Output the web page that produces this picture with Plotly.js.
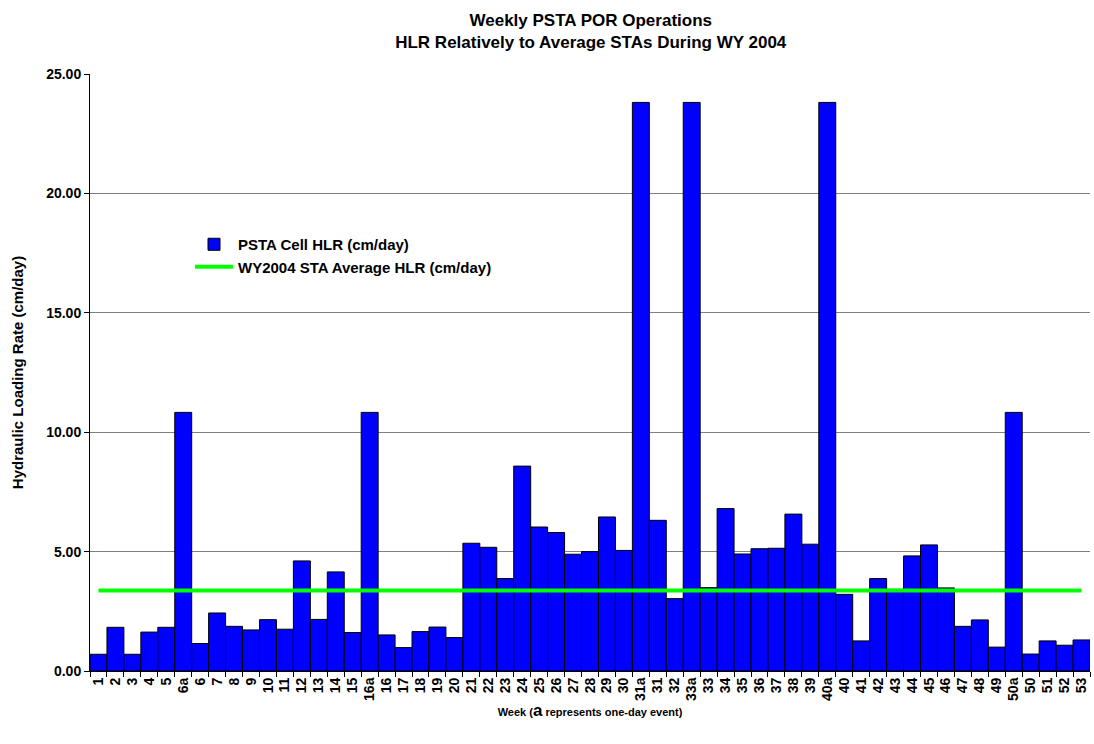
<!DOCTYPE html>
<html>
<head>
<meta charset="utf-8">
<script src="https://cdn.plot.ly/plotly-3.0.1.min.js"></script>
<style>html,body{margin:0;padding:0;background:#fff;}</style>
</head>
<body>
<div id="chart" style="width:1094px;height:744px;"></div>
<script>
const weeks = ["1","2","3","4","5","6a","6","7","8","9","10","11","12","13","14","15","16a","16","17","18","19","20","21","22","23","24","25","26","27","28","29","30","31a","31","32","33a","33","34","35","36","37","38","39","40a","40","41","42","43","44","45","46","47","48","49","50a","50","51","52","53"];
const psta = [0.70,1.83,0.70,1.63,1.83,10.83,1.15,2.43,1.87,1.72,2.15,1.75,4.61,2.16,4.15,1.61,10.83,1.51,0.98,1.65,1.84,1.40,5.35,5.18,3.87,8.58,6.03,5.80,4.89,5.00,6.45,5.05,23.81,6.31,3.03,23.81,3.49,6.80,4.90,5.12,5.14,6.57,5.31,23.81,3.21,1.26,3.87,3.42,4.82,5.28,3.48,1.87,2.14,1.00,10.83,0.71,1.26,1.08,1.30];
const staAvg = weeks.map(() => 3.37);
const yTicks = [0, 5, 10, 15, 20, 25];

const fam = "Liberation Sans, Arial, sans-serif";

const traces = [
  {
    type: "bar", x: weeks, y: psta, name: "<b>PSTA Cell HLR (cm/day)</b>",
    marker: {color: "#0000FF", line: {color: "#000", width: 1}}
  },
  {
    type: "scatter", mode: "lines", x: weeks, y: staAvg,
    name: "<b>WY2004 STA Average HLR (cm/day)</b>",
    line: {color: "#00FF00", width: 4}
  }
];

const layout = {
  width: 1094, height: 744,
  margin: {l: 90, r: 4, t: 74, b: 73},
  paper_bgcolor: "#fff", plot_bgcolor: "#fff",
  font: {family: fam, color: "#000"},
  bargap: 0,
  showlegend: true,
  title: {
    text: "<b>Weekly PSTA POR Operations<br>HLR Relatively to Average STAs During WY 2004</b>",
    font: {family: fam, size: 17, color: "#000"},
    x: 0.54, xanchor: "center", y: 0.965, yanchor: "top"
  },
  xaxis: {
    type: "category",
    tickmode: "array",
    tickvals: weeks,
    ticktext: weeks.map(w => "<b>" + w + "</b>"),
    tickangle: -90,
    tickfont: {family: fam, size: 14, color: "#000"},
    ticks: "outside", ticklen: 5, tickcolor: "#000", tickson: "boundaries",
    showline: true, linecolor: "#000", linewidth: 1,
    showgrid: false,
    automargin: false,
    title: {
      text: "<b>Week (<span style='font-size:17px'>a</span> represents one-day event)</b>",
      font: {family: fam, size: 11, color: "#000"},
      standoff: 2
    }
  },
  yaxis: {
    range: [0, 25],
    tickmode: "array",
    tickvals: yTicks,
    ticktext: yTicks.map(v => "<b>" + v.toFixed(2) + "</b>"),
    tickfont: {family: fam, size: 14, color: "#000"},
    ticks: "outside", ticklen: 5, tickcolor: "#000",
    showline: true, linecolor: "#000", linewidth: 1,
    showgrid: true, gridcolor: "#808080", gridwidth: 1,
    zeroline: false,
    automargin: false,
    title: {
      text: "<b>Hydraulic Loading Rate (cm/day)</b>",
      font: {family: fam, size: 15, color: "#000"},
      standoff: 18
    }
  },
  legend: {
    x: 0.1, y: 0.742, xanchor: "left", yanchor: "top",
    bgcolor: "rgba(0,0,0,0)",
    font: {family: fam, size: 15, color: "#000"},
    tracegroupgap: 0, itemwidth: 38
  }
};

Plotly.newPlot("chart", traces, layout, {displayModeBar: false, staticPlot: true});
</script>
</body>
</html>
